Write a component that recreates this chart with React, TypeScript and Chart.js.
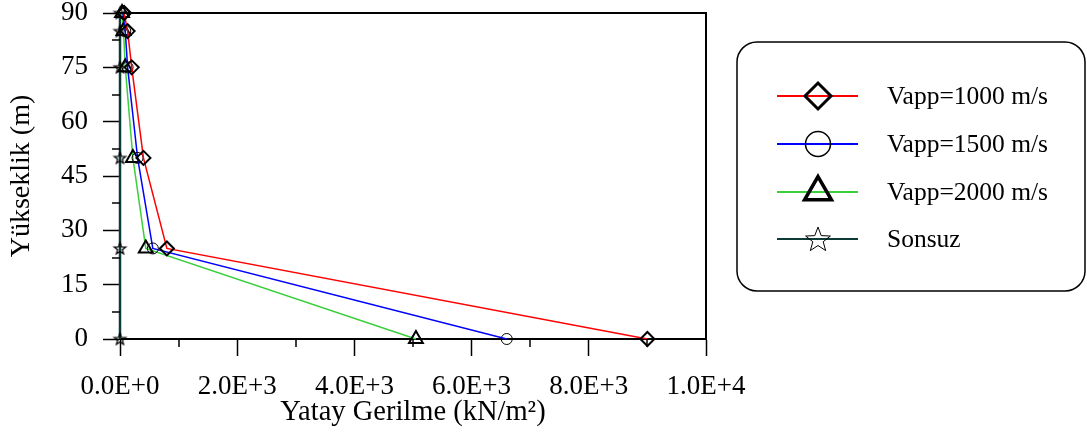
import React, { useEffect, useRef } from 'react';
import { Chart, registerables } from 'chart.js';
import { drawPoint } from 'chart.js/helpers';

Chart.register(...registerables);

// ---- data ----
const heights = [0, 25, 50, 75, 85, 90];
const vapp1000 = [9000, 800, 400, 200, 130, 70];
const vapp1500 = [6600, 560, 300, 130, 90, 50];
const vapp2000 = [5050, 440, 220, 90, 60, 35];
const sonsuz = [0, 0, 0, 0, 0, 0];
const seriesLabels = ['Vapp=1000 m/s', 'Vapp=1500 m/s', 'Vapp=2000 m/s', 'Sonsuz'];
const xTickLabels = ['0.0E+0', '2.0E+3', '4.0E+3', '6.0E+3', '8.0E+3', '1.0E+4'];
const yTickLabels = ['0', '15', '30', '45', '60', '75', '90'];
const xTitle = 'Yatay Gerilme (kN/m²)';
const yTitle = 'Yükseklik (m)';

const FONT = "'Liberation Serif', 'Times New Roman', serif";

function makeStar(r: number, lw: number, stroke: string): HTMLCanvasElement {
  const size = Math.ceil(2 * r + lw * 2 + 2);
  const c = document.createElement('canvas');
  c.width = size;
  c.height = size;
  const g = c.getContext('2d')!;
  const cx = size / 2;
  const cy = size / 2 + r * 0.08;
  g.beginPath();
  for (let i = 0; i < 10; i++) {
    const rr = i % 2 === 0 ? r : r * 0.42;
    const a = -Math.PI / 2 + (i * Math.PI) / 5;
    const px = cx + rr * Math.cos(a);
    const py = cy + rr * Math.sin(a);
    if (i === 0) g.moveTo(px, py);
    else g.lineTo(px, py);
  }
  g.closePath();
  g.lineWidth = lw;
  g.strokeStyle = stroke;
  g.stroke();
  return c;
}

const boxPlugin = {
  id: 'plotBox',
  afterDraw(chart: any) {
    const { ctx, chartArea } = chart;
    ctx.save();
    ctx.strokeStyle = '#000';
    ctx.lineWidth = 2;
    ctx.beginPath();
    ctx.moveTo(chartArea.left, chartArea.top);
    ctx.lineTo(chartArea.right, chartArea.top);
    ctx.lineTo(chartArea.right, chartArea.bottom);
    ctx.stroke();
    // minor ticks
    ctx.lineWidth = 1.5;
    const xs = chart.scales.x;
    for (let v = 1000; v < 10000; v += 2000) {
      const px = Math.round(xs.getPixelForValue(v));
      ctx.beginPath();
      ctx.moveTo(px, chartArea.bottom);
      ctx.lineTo(px, chartArea.bottom + 8);
      ctx.stroke();
    }
    const ys = chart.scales.y;
    for (let v = 7.5; v < 90; v += 15) {
      const py = Math.round(ys.getPixelForValue(v));
      ctx.beginPath();
      ctx.moveTo(chartArea.left, py);
      ctx.lineTo(chartArea.left - 8, py);
      ctx.stroke();
    }
    ctx.restore();
  },
};

const legendRadius = [13, 12.5, 15.5, 0];
const legendBorder = [3, 1.5, 3.5, 1];

const legendPlugin = {
  id: 'boxLegend',
  afterDraw(chart: any) {
    const ctx = chart.ctx;
    ctx.save();
    const bx = 737, by = 42, bw = 348, bh = 249, r = 20;
    ctx.beginPath();
    ctx.moveTo(bx + r, by);
    ctx.arcTo(bx + bw, by, bx + bw, by + bh, r);
    ctx.arcTo(bx + bw, by + bh, bx, by + bh, r);
    ctx.arcTo(bx, by + bh, bx, by, r);
    ctx.arcTo(bx, by, bx + bw, by, r);
    ctx.closePath();
    ctx.lineWidth = 1.5;
    ctx.strokeStyle = '#000';
    ctx.stroke();
    const rows = [96, 144, 192, 239];
    chart.data.datasets.forEach((ds: any, i: number) => {
      const y = rows[i];
      ctx.beginPath();
      ctx.moveTo(777, y);
      ctx.lineTo(858, y);
      ctx.strokeStyle = ds.borderColor;
      ctx.lineWidth = 2;
      ctx.stroke();
      ctx.strokeStyle = '#000';
      ctx.fillStyle = 'rgba(0,0,0,0)';
      ctx.lineWidth = legendBorder[i];
      ctx.lineJoin = 'miter';
      if (ds.legendStar) {
        const img = ds.legendStar as HTMLCanvasElement;
        ctx.drawImage(img, 818 - img.width / 2, y - img.height / 2);
      } else {
        drawPoint(ctx, { pointStyle: ds.pointStyle, radius: legendRadius[i], borderWidth: legendBorder[i], rotation: 0 } as any, 818, y);
      }
      ctx.fillStyle = '#000';
      ctx.font = `25.5px ${FONT}`;
      ctx.textBaseline = 'middle';
      ctx.textAlign = 'left';
      ctx.fillText(ds.label, 887, y + 1);
    });
    ctx.restore();
  },
};

export default function App() {
  const ref = useRef<HTMLCanvasElement>(null);
  useEffect(() => {
    if (!ref.current) return;
    const toPts = (arr: number[]) => heights.map((h, i) => ({ x: arr[i], y: h }));
    const starPlot = makeStar(6, 1.3, '#000');
    const starLegend = makeStar(13, 1, '#000');
    const base = {
      borderWidth: 1.5,
      pointBackgroundColor: 'rgba(0,0,0,0)',
      pointBorderColor: '#000',
      clip: false as any,
      tension: 0,
      fill: false,
    };
    const chart = new Chart(ref.current, {
      type: 'line',
      data: {
        datasets: [
          { ...base, label: seriesLabels[0], data: toPts(vapp1000), borderColor: '#ff0000', pointStyle: 'rectRot', pointRadius: 7, pointBorderWidth: 2 },
          { ...base, label: seriesLabels[1], data: toPts(vapp1500), borderColor: '#0000ff', pointStyle: 'circle', pointRadius: 5.5, pointBorderWidth: 1 },
          { ...base, label: seriesLabels[2], data: toPts(vapp2000), borderColor: '#3ccf3c', pointStyle: 'triangle', pointRadius: 8, pointBorderWidth: 2 },
          { ...base, label: seriesLabels[3], data: toPts(sonsuz), borderColor: '#0d3b36', borderWidth: 2.5, pointStyle: starPlot as any, pointRadius: 6, pointBorderWidth: 1, legendStar: starLegend } as any,
        ],
      },
      options: {
        responsive: false,
        animation: false,
        events: [],
        layout: { padding: { top: 13, right: 381, left: 0, bottom: 0 } },
        plugins: { legend: { display: false }, tooltip: { enabled: false } },
        scales: {
          x: {
            type: 'linear',
            min: 0,
            max: 10000,
            afterFit: (s: any) => { s.height = 100; s.paddingLeft = 0; s.paddingRight = 0; },
            grid: { drawOnChartArea: false, drawTicks: true, tickLength: 17, tickWidth: 1.5, tickColor: (c: any) => (c.tick && c.tick.value % 2000 === 0 ? '#000' : 'rgba(0,0,0,0)') },
            border: { display: true, color: '#000', width: 2 },
            ticks: {
              stepSize: 1000,
              autoSkip: false,
              maxRotation: 0,
              minRotation: 0,
              padding: 15,
              color: '#000',
              font: { family: FONT, size: 27 },
              callback: (v: any) => (Number(v) % 2000 === 0 ? xTickLabels[Number(v) / 2000] : ''),
            },
            title: { display: true, text: xTitle, color: '#000', font: { family: FONT, size: 28.5 }, padding: { top: 0, bottom: 9 } },
          },
          y: {
            type: 'linear',
            min: 0,
            max: 90,
            afterFit: (s: any) => { s.width = 120; s.paddingTop = 0; s.paddingBottom = 0; },
            grid: { drawOnChartArea: false, drawTicks: true, tickLength: 17, tickWidth: 1.5, tickColor: (c: any) => (c.tick && c.tick.value % 15 === 0 ? '#000' : 'rgba(0,0,0,0)') },
            border: { display: true, color: '#000', width: 2 },
            ticks: {
              stepSize: 7.5,
              autoSkip: false,
              padding: 15,
              color: '#000',
              font: { family: FONT, size: 27, lineHeight: 1 },
              callback: (v: any) => (Number(v) % 15 === 0 ? yTickLabels[Number(v) / 15] : ''),
            },
            title: { display: true, text: yTitle, color: '#000', font: { family: FONT, size: 28 }, padding: { top: 5, bottom: 0 } },
          },
        },
      },
      plugins: [boxPlugin, legendPlugin],
    });
    return () => chart.destroy();
  }, []);
  return (
    <div style={{ position: 'fixed', left: 0, top: 0, width: 1087, height: 439, background: '#fff' }}>
      <canvas ref={ref} width={1087} height={439} style={{ display: 'block', width: 1087, height: 439 }} />
    </div>
  );
}
